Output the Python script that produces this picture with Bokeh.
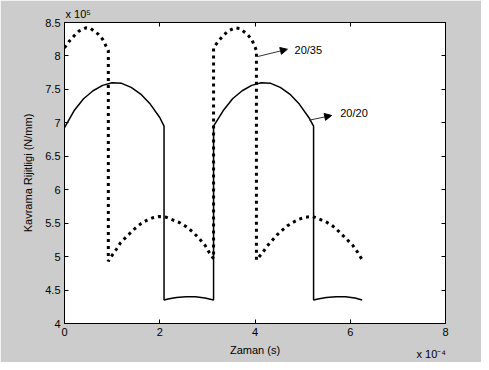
from bokeh.plotting import figure
from bokeh.models import Range1d, FixedTicker, LinearAxis, Label, Arrow, NormalHead
from bokeh.embed import file_html
from bokeh.resources import INLINE

# ---- data (x in units of 1e-4 s, y in units of 1e5 N/mm) ----
x_2020 = [0, 0.2, 0.4, 0.6, 0.8, 1.0, 1.2, 1.4, 1.6, 1.8, 2.0, 2.09,
          2.09, 2.2, 2.35, 2.55, 2.75, 2.95, 3.13,
          3.13, 3.33, 3.53, 3.73, 3.93, 4.13, 4.33, 4.53, 4.73, 4.93, 5.13, 5.23,
          5.23, 5.35, 5.5, 5.7, 5.9, 6.1, 6.25]
y_2020 = [6.93, 7.18, 7.36, 7.48, 7.56, 7.60, 7.59, 7.53, 7.43, 7.28, 7.08, 6.95,
          4.35, 4.37, 4.39, 4.40, 4.40, 4.38, 4.35,
          6.95, 7.18, 7.36, 7.48, 7.56, 7.60, 7.59, 7.53, 7.43, 7.28, 7.08, 6.95,
          4.35, 4.37, 4.39, 4.40, 4.40, 4.38, 4.35]

x_2035 = [0, 0.1, 0.2, 0.3, 0.45, 0.55, 0.7, 0.8, 0.92,
          0.92, 1.0, 1.09, 1.18, 1.29, 1.39, 1.48, 1.6, 1.72, 1.85, 1.99, 2.13, 2.27,
          2.41, 2.55, 2.69, 2.83, 2.96, 3.04, 3.13,
          3.13, 3.23, 3.33, 3.43, 3.58, 3.68, 3.83, 3.93, 4.03,
          4.03, 4.16, 4.26, 4.37, 4.47, 4.58, 4.68, 4.79, 4.93, 5.07, 5.21, 5.35, 5.49,
          5.63, 5.77, 5.91, 6.05, 6.16, 6.26]
y_2035 = [8.12, 8.22, 8.30, 8.37, 8.42, 8.41, 8.33, 8.25, 8.08,
          4.93, 5.02, 5.11, 5.21, 5.29, 5.36, 5.42, 5.49, 5.54, 5.58, 5.60, 5.59, 5.55,
          5.51, 5.45, 5.37, 5.27, 5.16, 5.06, 4.97,
          8.12, 8.22, 8.30, 8.37, 8.42, 8.41, 8.33, 8.25, 8.08,
          4.95, 5.06, 5.16, 5.25, 5.33, 5.40, 5.46, 5.51, 5.56, 5.59, 5.60, 5.56, 5.52,
          5.46, 5.37, 5.27, 5.17, 5.06, 4.94]

x_ticks = [0, 2, 4, 6, 8]
x_tick_labels = ["0", "2", "4", "6", "8"]
y_ticks = [4, 4.5, 5, 5.5, 6, 6.5, 7, 7.5, 8, 8.5]
y_tick_labels = ["4", "4.5", "5", "5.5", "6", "6.5", "7", "7.5", "8", "8.5"]
y_multiplier = "x 10\u2075"
x_multiplier = "x 10\u207b\u2074"

FONT = "Liberation Sans"
GRAY = "#cccccc"

p = figure(width=481, height=362, output_backend="svg", toolbar_location=None,
           x_range=Range1d(0, 8), y_range=Range1d(4, 8.5),
           min_border_left=64, min_border_right=36, min_border_top=22, min_border_bottom=39,
           background_fill_color="white", border_fill_color=GRAY)
p.grid.visible = False
p.outline_line_color = "black"
p.outline_line_width = 1

p.line(x_2020, y_2020, line_color="black", line_width=1.5)
p.line(x_2035, y_2035, line_color="black", line_width=3, line_dash="3 4", line_cap="butt")

def style_axis(ax, show_labels):
    ax.major_tick_in = 4
    ax.major_tick_out = 0
    ax.minor_tick_line_color = None
    ax.axis_line_color = "black"
    ax.major_tick_line_color = "black"
    ax.major_label_text_font = FONT
    ax.major_label_text_font_size = "11px" if show_labels else "0px"
    ax.major_label_text_color = "black" if show_labels else None
    ax.major_label_standoff = 4 if show_labels else 0
    ax.axis_label_text_font = FONT
    ax.axis_label_text_font_size = "11px"
    ax.axis_label_text_font_style = "normal"
    ax.axis_label_text_color = "black"

xt = FixedTicker(ticks=x_ticks)
yt = FixedTicker(ticks=y_ticks)
xo = dict(zip(x_ticks, x_tick_labels))
yo = dict(zip(y_ticks, y_tick_labels))

p.xaxis.ticker = xt
p.yaxis.ticker = yt
p.xaxis.major_label_overrides = xo
p.yaxis.major_label_overrides = yo
style_axis(p.xaxis[0], True)
style_axis(p.yaxis[0], True)
p.xaxis.axis_label = "Zaman (s)"
p.yaxis.axis_label = "Kavrama Rijitligi (N/mm)"
p.xaxis.axis_label_standoff = 5
p.yaxis.axis_label_standoff = 8

top = LinearAxis(ticker=FixedTicker(ticks=x_ticks))
style_axis(top, False)
right = LinearAxis(ticker=FixedTicker(ticks=y_ticks))
style_axis(right, False)
p.add_layout(top, "above")
p.add_layout(right, "right")

# exponent labels, placed in side panels so that they are not clipped to the frame
p.add_layout(Label(x=1, y=9, x_units="screen", y_units="screen", text=y_multiplier,
                   text_font=FONT, text_font_size="11px", text_color="black",
                   text_baseline="alphabetic"), "above")
p.add_layout(Label(x=-29, y=-30, x_units="screen", y_units="screen", text=x_multiplier,
                   text_font=FONT, text_font_size="11px", text_color="black",
                   text_baseline="alphabetic"), "right")

# annotations
p.add_layout(Arrow(end=NormalHead(size=7, fill_color="black", line_color="black"),
                   x_start=4.05, y_start=7.99, x_end=4.68, y_end=8.10,
                   line_color="#333333", line_width=1))
p.add_layout(Label(x=4.83, y=8.09, text="20/35", text_font=FONT, text_font_size="11px",
                   text_color="black", text_baseline="middle"))
p.add_layout(Arrow(end=NormalHead(size=7, fill_color="black", line_color="black"),
                   x_start=5.14, y_start=7.04, x_end=5.61, y_end=7.11,
                   line_color="#333333", line_width=1))
p.add_layout(Label(x=5.79, y=7.15, text="20/20", text_font=FONT, text_font_size="11px",
                   text_color="black", text_baseline="middle"))

open("out.html", "w").write(file_html(p, INLINE))
